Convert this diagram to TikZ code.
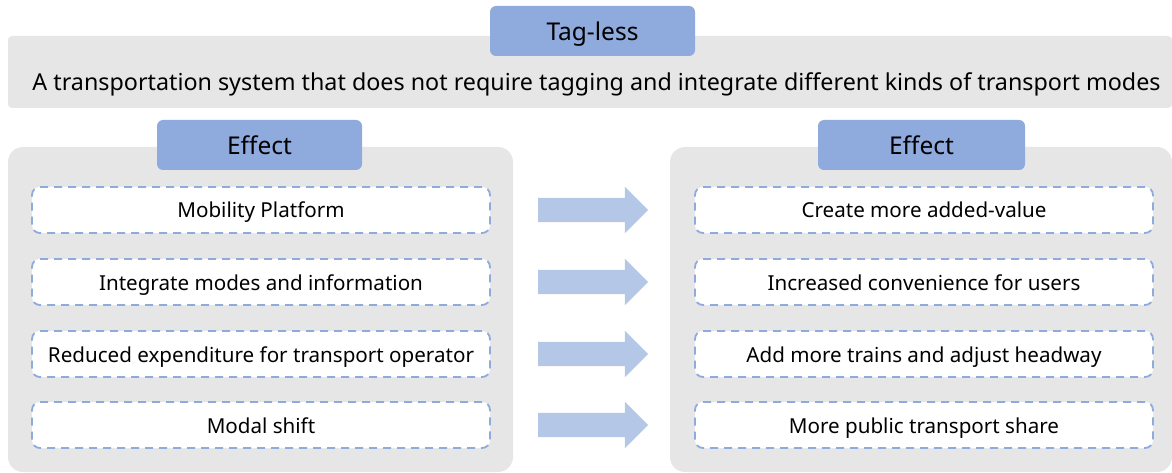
\documentclass[tikz,border=0pt]{standalone}
\usepackage{fontspec}
\setmainfont{Noto Sans}
\usetikzlibrary{shapes.arrows, calc}
\definecolor{tabblue}{HTML}{8FAADC}
\definecolor{arrowblue}{HTML}{B4C7E7}
\definecolor{panelgray}{HTML}{E6E6E6}

\tikzset{
  panel/.style={fill=panelgray, rounded corners=15pt, inner sep=0pt},
  tab/.style={fill=tabblue, rounded corners=6pt, minimum width=205pt,
              minimum height=50pt, inner sep=0pt, text height=18.5pt, text depth=0pt,
              font=\fontsize{24.5}{28}\selectfont},
  itembox/.style={draw=tabblue, fill=white, line width=1.8pt, dash pattern=on 8pt off 6pt,
                  rounded corners=8pt, minimum width=458pt, minimum height=46pt,
                  inner sep=0pt, text height=16pt, text depth=0pt,
                  font=\fontsize{20.6}{24}\selectfont},
  flow/.style={single arrow, fill=arrowblue, minimum height=110pt, inner xsep=0pt,
               inner ysep=12pt, single arrow head extend=11pt, single arrow tip angle=90,
               anchor=tail}
}

\begin{document}
\begin{tikzpicture}[x=1pt, y=-1pt]
    \useasboundingbox (0,0) rectangle (1172,473);

    % Definition band with its title tab
    \fill[panelgray, rounded corners=4pt] (8,36) rectangle (1172,108);
    \node[text height=17pt, text depth=0pt, inner sep=0pt,
          font=\fontsize{23.3}{27}\selectfont] (summary) at (596.5,82)
      {A transportation system that does not require tagging and integrate different kinds of transport modes};
    \node[tab] (tagless) at (592.5,31) {Tag-less};

    % Left panel
    \node[panel, minimum width=505pt, minimum height=325pt] (leftpanel) at (260.5,309.5) {};
    \node[tab] (lefttab) at (259.5,145) {Effect};
    \node[itembox] (cause1) at (261,210) {Mobility Platform};
    \node[itembox] (cause2) at (261,282) {Integrate modes and information};
    \node[itembox] (cause3) at (261,354) {Reduced expenditure for transport operator};
    \node[itembox] (cause4) at (261,425) {Modal shift};

    % Right panel
    \node[panel, minimum width=502pt, minimum height=325pt] (rightpanel) at (921,309.5) {};
    \node[tab, minimum width=207pt] (righttab) at (921.5,145) {Effect};
    \node[itembox] (effect1) at (924,210) {Create more added-value};
    \node[itembox] (effect2) at (924,282) {Increased convenience for users};
    \node[itembox] (effect3) at (924,354) {Add more trains and adjust headway};
    \node[itembox] (effect4) at (924,425) {More public transport share};

    % Block arrows between the two columns
    \node[flow] (arr1) at ($(cause1.east)+(47,0)$) {};
    \node[flow] (arr2) at ($(cause2.east)+(47,0)$) {};
    \node[flow] (arr3) at ($(cause3.east)+(47,0)$) {};
    \node[flow] (arr4) at ($(cause4.east)+(47,0)$) {};
\end{tikzpicture}
\end{document}
